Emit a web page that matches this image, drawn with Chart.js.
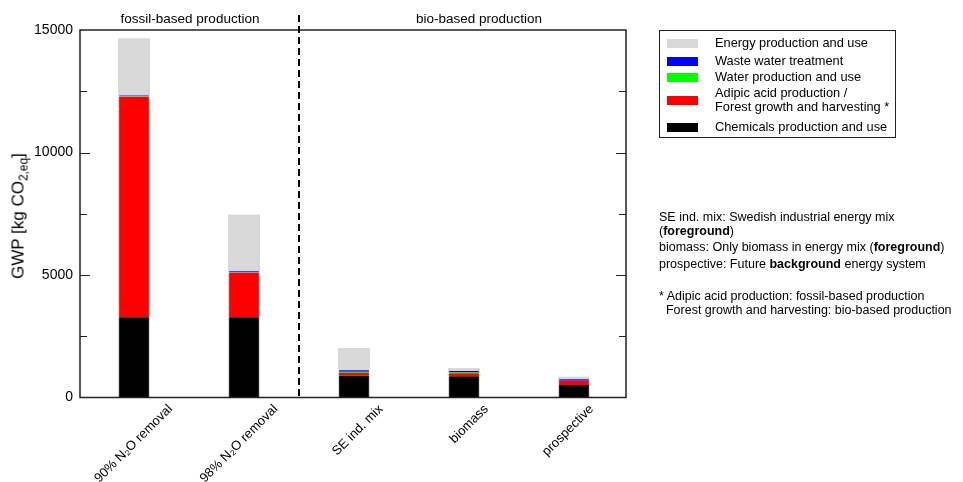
<!DOCTYPE html>
<html>
<head>
<meta charset="utf-8">
<script src="https://cdn.jsdelivr.net/npm/chart.js@4/dist/chart.umd.min.js"></script>
<style>
html,body{margin:0;padding:0;background:#fff;}
body{width:963px;height:482px;position:relative;overflow:hidden;font-family:"Liberation Sans",Arial,Helvetica,sans-serif;color:#000;}
#wrap{position:absolute;left:0;top:0;width:963px;height:482px;}
.abs{position:absolute;white-space:nowrap;line-height:1;}
sub{font-size:70%;vertical-align:-0.3em;line-height:0;}
#legend{position:absolute;left:659px;top:30px;width:237px;height:108px;border:1px solid #222;box-sizing:border-box;}
.sw{position:absolute;left:7px;width:31px;height:9px;}
.lt{position:absolute;left:55px;font-size:12.8px;line-height:14px;white-space:pre;}
.note{position:absolute;left:659px;font-size:12.5px;line-height:1;white-space:pre;}
</style>
</head>
<body>
<div id="wrap"><canvas id="c" width="963" height="482"></canvas></div>
<div class="abs" style="left:18px;top:216px;transform:translate(-50%,-50%) rotate(-90deg);font-size:17px;">GWP [kg CO<sub>2,eq</sub>]</div>
<div class="abs" style="left:190px;top:19px;transform:translate(-50%,-50%);font-size:13.5px;">fossil-based production</div>
<div class="abs" style="left:479px;top:19px;transform:translate(-50%,-50%);font-size:13.5px;">bio-based production</div>
<div id="legend"></div>
<div class="note" style="top:211px;">SE ind. mix: Swedish industrial energy mix</div>
<div class="note" style="top:225px;">(<b>foreground</b>)</div>
<div class="note" style="top:241px;">biomass: Only biomass in energy mix (<b>foreground</b>)</div>
<div class="note" style="top:258px;">prospective: Future <b>background</b> energy system</div>
<div class="note" style="top:290px;">* Adipic acid production: fossil-based production</div>
<div class="note" style="top:304px;">  Forest growth and harvesting: bio-based production</div>
<script>
// ---- data ----
const categories = ['90% N\u2082O removal', '98% N\u2082O removal', 'SE ind. mix', 'biomass', 'prospective'];
const chemicals    = [3280, 3280, 890, 866, 510];
const adipicForest = [8990, 1810, 110, 123, 165];
const water        = [15, 15, 55, 50, 10];
const wasteWater   = [45, 45, 55, 40, 60];
const energy       = [2330, 2320, 910, 127, 110];
const seriesNames  = ['Chemicals production and use', 'Adipic acid production /\nForest growth and harvesting *', 'Water production and use', 'Waste water treatment', 'Energy production and use'];
const seriesColors = ['#000000', '#ff0000', '#00ff00', '#0000ff', '#d9d9d9'];
const yTicks = [0, 5000, 10000, 15000];
const groupDivider = 2.5;

// ---- chart ----
Chart.defaults.font.family = '"Liberation Sans", Arial, Helvetica, sans-serif';
Chart.defaults.color = '#000';
const seriesValues = [chemicals, adipicForest, water, wasteWater, energy];
const datasets = seriesValues.map((vals, k) => ({
  label: seriesNames[k],
  data: vals.map((v, i) => ({x: i + 1, y: v})),
  backgroundColor: seriesColors[k],
  borderColor: '#c8c8c8',
  borderWidth: {left: 1, right: 1, top: 0, bottom: 0},
  borderSkipped: false,
  barThickness: 31,
  xAxisID: 'x', yAxisID: 'y'
}));

const framePlugin = {
  id: 'frame',
  afterDatasetsDraw(chart) {
    const {ctx, chartArea: a, scales} = chart;
    const y = scales.y, x = scales.x;
    ctx.save();
    ctx.strokeStyle = '#222';
    ctx.lineWidth = 1;
    const minor = (yTicks[1] - yTicks[0]) / 2;
    for (let v = y.min + minor; v < y.max; v += minor) {
      const py = Math.round(y.getPixelForValue(v)) + 0.5;
      const len = (v % (yTicks[1] - yTicks[0]) === 0) ? 10 : 7;
      ctx.beginPath();
      ctx.moveTo(a.left, py); ctx.lineTo(a.left + len, py);
      ctx.moveTo(a.right, py); ctx.lineTo(a.right - len, py);
      ctx.stroke();
    }
    ctx.lineWidth = 1.5;
    ctx.strokeRect(a.left, a.top, a.right - a.left, a.bottom - a.top);
    const dx = Math.round(x.getPixelForValue(groupDivider));
    ctx.strokeStyle = '#000';
    ctx.lineWidth = 2;
    ctx.setLineDash([7, 4]);
    ctx.beginPath();
    ctx.moveTo(dx, 15); ctx.lineTo(dx, a.bottom);
    ctx.stroke();
    ctx.restore();
  }
};

const chart = new Chart(document.getElementById('c'), {
  type: 'bar',
  data: {datasets},
  options: {
    responsive: false,
    animation: false,
    devicePixelRatio: 1,
    layout: {padding: {top: 30, right: 337, left: 0, bottom: 0}},
    plugins: {legend: {display: false}, tooltip: {enabled: false}},
    scales: {
      x: {
        type: 'linear', display: false, stacked: true, offset: false,
        grid: {offset: false},
        min: 0.509, max: 5.473
      },
      xl: {
        type: 'linear', position: 'bottom', offset: false,
        min: 0.1415, max: 5.327,
        afterBuildTicks: s => { s.ticks = categories.map((c, i) => ({value: i + 1})); },
        afterFit: s => { s.height = 84.5; },
        grid: {display: false, drawTicks: false, offset: false},
        border: {display: false},
        ticks: {autoSkip: false, minRotation: 45, maxRotation: 45, padding: 4,
                font: {size: 13}, color: '#000',
                callback: v => categories[Math.round(v) - 1]}
      },
      y: {
        type: 'linear', stacked: true, min: 0, max: 15000,
        afterBuildTicks: s => { s.ticks = yTicks.map(v => ({value: v})); },
        afterFit: s => { s.width = 80; },
        grid: {display: false, drawTicks: false},
        border: {display: false},
        ticks: {padding: 7, font: {size: 14}, color: '#000', callback: v => String(v)}
      }
    }
  },
  plugins: [framePlugin]
});

// ---- legend built from the chart's datasets (top of stack first) ----
const rowCenters = [12, 30, 46, 69, 96];
const leg = document.getElementById('legend');
chart.data.datasets.slice().reverse().forEach((ds, r) => {
  const c = rowCenters[r];
  const sw = document.createElement('div');
  sw.className = 'sw';
  sw.style.top = (c - 4.5) + 'px';
  sw.style.background = ds.backgroundColor;
  leg.appendChild(sw);
  const t = document.createElement('div');
  t.className = 'lt';
  const nLines = ds.label.split('\n').length;
  t.style.top = (c - nLines * 7) + 'px';
  t.textContent = ds.label;
  leg.appendChild(t);
});
</script>
</body>
</html>
